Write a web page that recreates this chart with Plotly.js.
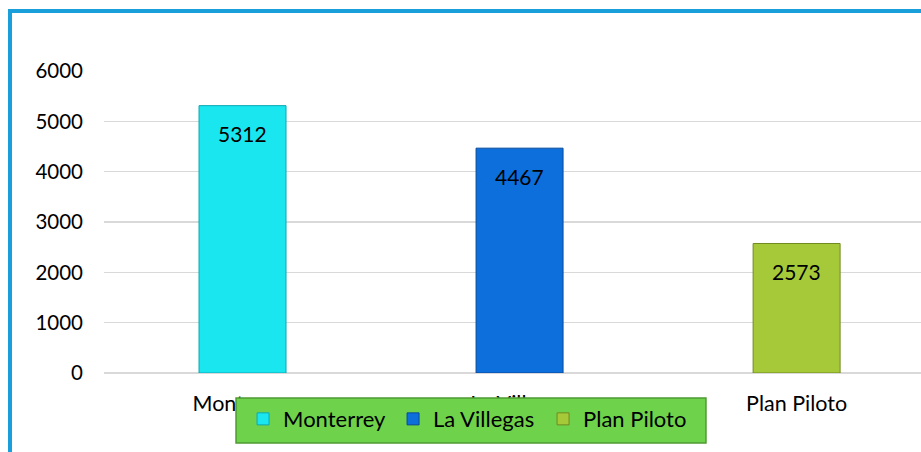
<!DOCTYPE html>
<html>
<head>
<meta charset="utf-8">
<script src="https://cdn.plot.ly/plotly-3.0.1.min.js"></script>
<style>
html,body{margin:0;padding:0;background:#fff;overflow:hidden;}
#chart{position:absolute;left:0;top:0;width:921px;height:452px;}
#frame{position:absolute;left:8px;top:9px;width:1000px;height:1000px;border:4px solid #1a9fdb;box-sizing:border-box;pointer-events:none;}
</style>
</head>
<body>
<div id="chart"></div>
<div id="frame"></div>
<script>
const categories = ["Monterrey", "La Villegas", "Plan Piloto"];
const values = [5312, 4467, 2573];
const colors = ["#19e6ef", "#0c6fdc", "#a6c93a"];
const edgeColors = ["#0aa9b3", "#08499a", "#6f8a1f"];
const tickVals = [0, 1000, 2000, 3000, 4000, 5000, 6000];

const font = "Lato, 'Open Sans', sans-serif";

const traces = categories.map((c, i) => ({
  type: "bar",
  name: c,
  x: [c],
  y: [values[i]],
  width: 0.314,
  marker: {color: colors[i], line: {color: edgeColors[i], width: 1}},
  hoverinfo: "skip"
}));

const annotations = categories.map((c, i) => ({
  x: c, y: values[i], xref: "x", yref: "y",
  text: String(values[i]), showarrow: false,
  yanchor: "middle", yshift: -28,
  font: {family: font, size: 21, color: "#000"}
}));

const layout = {
  width: 921, height: 452,
  margin: {l: 104, r: 0, t: 71, b: 79},
  paper_bgcolor: "rgba(0,0,0,0)",
  plot_bgcolor: "rgba(0,0,0,0)",
  barmode: "overlay",
  showlegend: true,
  font: {family: font, size: 20, color: "#000"},
  xaxis: {
    type: "category",
    categoryarray: categories,
    range: [-0.5, 2.449],
    showgrid: false, zeroline: false, showline: false,
    ticks: "", ticklabelstandoff: 15,
    tickfont: {family: font, size: 21.5, color: "#000"}
  },
  yaxis: {
    range: [0, 6000],
    tickvals: tickVals,
    ticktext: tickVals.map(String),
    showgrid: true, gridcolor: "#d9d9d9", gridwidth: 1.5,
    zeroline: true, zerolinecolor: "#d9d9d9", zerolinewidth: 1.5,
    showline: false, ticks: "", ticklabelstandoff: 20,
    tickfont: {family: font, size: 20.5, color: "#000"}
  },
  shapes: [{
    type: "rect", xref: "paper", yref: "paper", layer: "above",
    x0: 0.1616, x1: 0.7368, y0: -0.2318, y1: -0.0828,
    fillcolor: "#6fd24b", line: {color: "#4f9a33", width: 1.5}
  }],
  legend: {
    orientation: "h",
    x: 0.1702, y: -0.083, xanchor: "left", yanchor: "top",
    bgcolor: "rgba(0,0,0,0)", borderwidth: 0,
    font: {family: font, size: 22, color: "#000"},
    itemwidth: 30, tracegroupgap: 0,
    entrywidth: 105, entrywidthmode: "pixels",
    traceorder: "normal"
  },
  annotations: annotations
};

Plotly.newPlot("chart", traces, layout, {displayModeBar: false, staticPlot: true});
</script>
</body>
</html>
